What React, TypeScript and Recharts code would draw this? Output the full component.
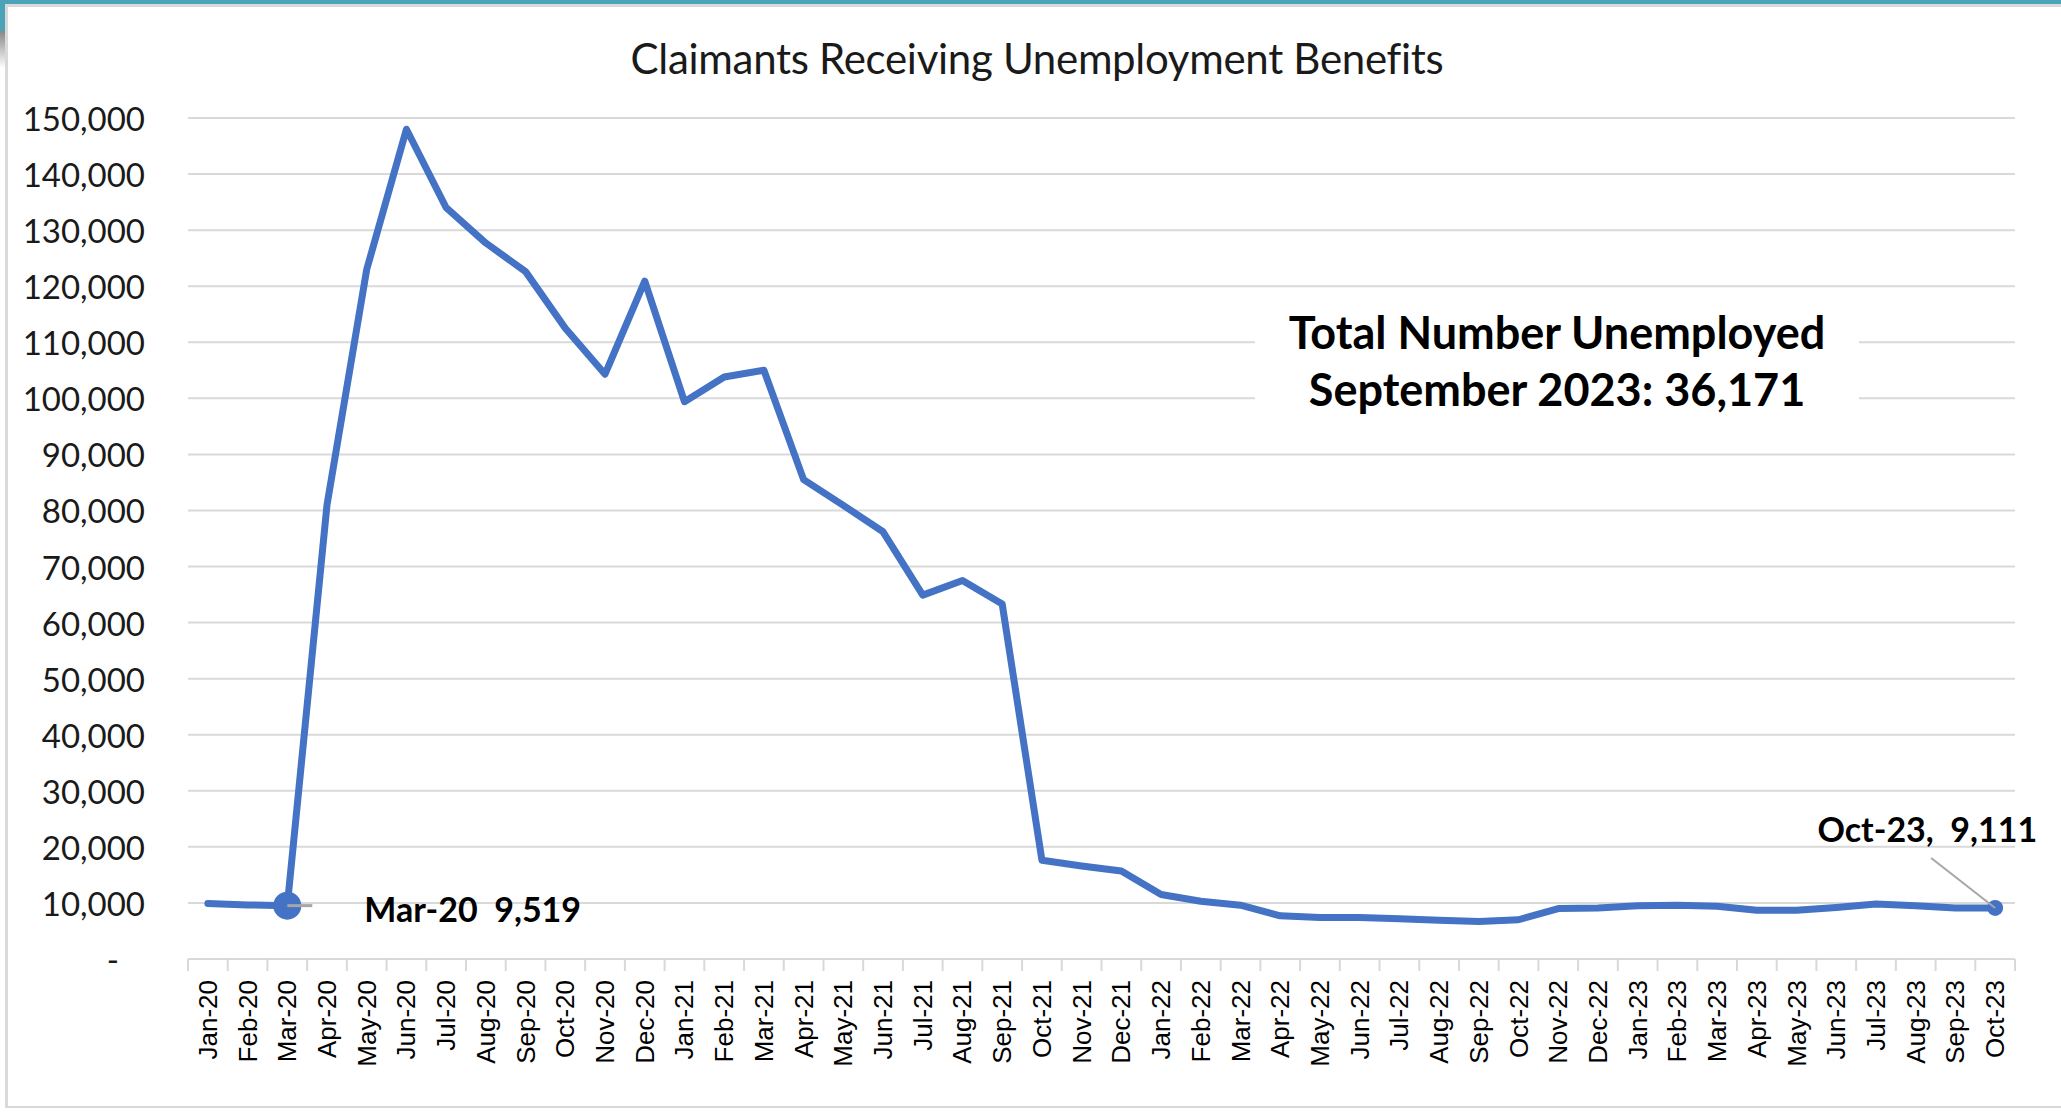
import React from "react";
import { LineChart, Line, XAxis, YAxis, CartesianGrid, LabelList } from "recharts";

const months = [
  "Jan-20", "Feb-20", "Mar-20", "Apr-20", "May-20", "Jun-20", "Jul-20", "Aug-20", "Sep-20", "Oct-20", "Nov-20", "Dec-20",
  "Jan-21", "Feb-21", "Mar-21", "Apr-21", "May-21", "Jun-21", "Jul-21", "Aug-21", "Sep-21", "Oct-21", "Nov-21", "Dec-21",
  "Jan-22", "Feb-22", "Mar-22", "Apr-22", "May-22", "Jun-22", "Jul-22", "Aug-22", "Sep-22", "Oct-22", "Nov-22", "Dec-22",
  "Jan-23", "Feb-23", "Mar-23", "Apr-23", "May-23", "Jun-23", "Jul-23", "Aug-23", "Sep-23", "Oct-23",
];

const claimants = [
  9900, 9650, 9519, 81000, 123000, 148000, 134000, 127700, 122600, 112500, 104300, 120900,
  99400, 103800, 105000, 85500, 80900, 76200, 64900, 67500, 63300, 17600, 16600, 15700,
  11500, 10300, 9600, 7700, 7400, 7400, 7200, 6900, 6700, 7000, 9000, 9100,
  9500, 9600, 9400, 8700, 8700, 9200, 9800, 9500, 9100, 9111,
];

const yTicks = [0, 10000, 20000, 30000, 40000, 50000, 60000, 70000, 80000, 90000, 100000, 110000, 120000, 130000, 140000, 150000];

// Mar-20 and Oct-23 carry the callouts
const highlighted = [2, 45];

const data = months.map((month, i) => ({ month, claimants: claimants[i] }));

const W = 2061;
const H = 1112;
const GRID = "#d9d9d9";
const BLUE = "#4472c4";
const CAL = "Lato, 'Open Sans', sans-serif";

const fmt = (v: number) => v.toLocaleString("en-US");

const YTick = (props: any) => {
  const { x, y, payload } = props;
  const zero = payload.value === 0;
  return (
    <text
      x={zero ? x - 26 : x}
      y={y}
      textAnchor="end"
      dominantBaseline="central"
      fontFamily={CAL}
      fontSize={33}
      fill="#1a1a1a"
    >
      {zero ? "-" : fmt(payload.value)}
    </text>
  );
};

const XTick = (props: any) => {
  const { x, y, payload, index } = props;
  const half = payload.offset || (W - 188 - 46) / months.length / 2;
  return (
    <g>
      <line x1={x - half} x2={x - half} y1={y} y2={y + 12} stroke={GRID} strokeWidth={2} />
      {index === months.length - 1 && (
        <line x1={x + half} x2={x + half} y1={y} y2={y + 12} stroke={GRID} strokeWidth={2} />
      )}
      <text
        transform={`translate(${x},${y + 21}) rotate(-90)`}
        textAnchor="end"
        dominantBaseline="central"
        fontFamily="'Liberation Sans', Arial, sans-serif"
        fontSize={26}
        fill="#000"
      >
        {payload.value}
      </text>
    </g>
  );
};

const Dot = (props: any) => {
  const { cx, cy, index } = props;
  if (index === highlighted[0]) return <circle key={index} cx={cx} cy={cy} r={14} fill={BLUE} />;
  if (index === highlighted[1]) return <circle key={index} cx={cx} cy={cy} r={8} fill={BLUE} />;
  return <g key={index} />;
};

const PointLabel = (props: any) => {
  const { x, y, index } = props;
  const style = { whiteSpace: "pre" as const };
  if (index === highlighted[0]) {
    return (
      <g>
        <line x1={x} y1={y} x2={x + 25} y2={y} stroke="#a6a6a6" strokeWidth={3} />
        <text
          x={x + 77}
          y={y + 3}
          dominantBaseline="central"
          fontFamily={CAL}
          fontWeight={700}
          fontSize={34}
          fill="#000"
          style={style}
        >
          {`${months[index]}  ${fmt(claimants[index])}`}
        </text>
      </g>
    );
  }
  if (index === highlighted[1]) {
    return (
      <g>
        <line x1={x - 64} y1={y - 50} x2={x} y2={y} stroke="#a6a6a6" strokeWidth={2} />
        <text
          x={x + 42}
          y={y - 79}
          textAnchor="end"
          dominantBaseline="central"
          fontFamily={CAL}
          fontWeight={700}
          fontSize={34}
          fill="#000"
          style={style}
        >
          {`${months[index]},  ${fmt(claimants[index])}`}
        </text>
      </g>
    );
  }
  return null;
};

export default function App() {
  return (
    <div style={{ position: "absolute", left: 0, top: 0, width: W, height: H, background: "#fff", overflow: "hidden" }}>
      {/* slide frame */}
      <div style={{ position: "absolute", left: 0, top: 0, width: W, height: 4, background: "#4ba3b7" }} />
      <div
        style={{
          position: "absolute",
          left: 0,
          top: 0,
          width: 5,
          height: 70,
          background: "linear-gradient(#4ba3b7 0px, #4ba3b7 30px, #8a8a8a 32px, #ffffff 68px)",
        }}
      />
      <div
        style={{
          position: "absolute",
          left: 5,
          top: 4,
          width: W,
          height: H - 8,
          borderLeft: `3px solid ${GRID}`,
          borderTop: `3px solid ${GRID}`,
          borderBottom: `2px solid ${GRID}`,
          boxSizing: "border-box",
        }}
      />
      <div
        style={{
          position: "absolute",
          left: 0,
          top: 32,
          width: 2074,
          textAlign: "center",
          fontFamily: CAL,
          fontSize: 42,
          lineHeight: "52px",
          color: "#1a1a1a",
          letterSpacing: -0.3,
        }}
      >
        Claimants Receiving Unemployment Benefits
      </div>
      <div style={{ position: "absolute", left: 0, top: 0 }}>
        <LineChart width={W} height={H} data={data} margin={{ top: 118, right: 46, bottom: 0, left: 0 }}>
          <CartesianGrid vertical={false} stroke={GRID} strokeWidth={2} />
          <XAxis
            dataKey="month"
            scale="band"
            interval={0}
            height={153}
            tickSize={0}
            tickMargin={0}
            tickLine={false}
            axisLine={{ stroke: GRID, strokeWidth: 2 }}
            tick={XTick}
          />
          <YAxis
            domain={[0, 150000]}
            ticks={yTicks}
            width={188}
            tickSize={0}
            tickMargin={43}
            axisLine={false}
            tickLine={false}
            tick={YTick}
            interval={0}
          />
          <Line
            type="linear"
            dataKey="claimants"
            stroke={BLUE}
            strokeWidth={7}
            strokeLinejoin="round"
            strokeLinecap="round"
            dot={Dot}
            activeDot={false}
            isAnimationActive={false}
          >
            <LabelList dataKey="claimants" content={PointLabel} />
          </Line>
        </LineChart>
      </div>
      <div
        style={{
          position: "absolute",
          left: 1255,
          top: 302,
          width: 604,
          height: 118,
          background: "#fff",
          textAlign: "center",
          fontFamily: CAL,
          fontWeight: 700,
          fontSize: 45,
          lineHeight: "57px",
          color: "#000",
          paddingTop: 2,
          boxSizing: "border-box",
        }}
      >
        <div>Total Number Unemployed</div>
        <div>September 2023: 36,171</div>
      </div>
    </div>
  );
}
